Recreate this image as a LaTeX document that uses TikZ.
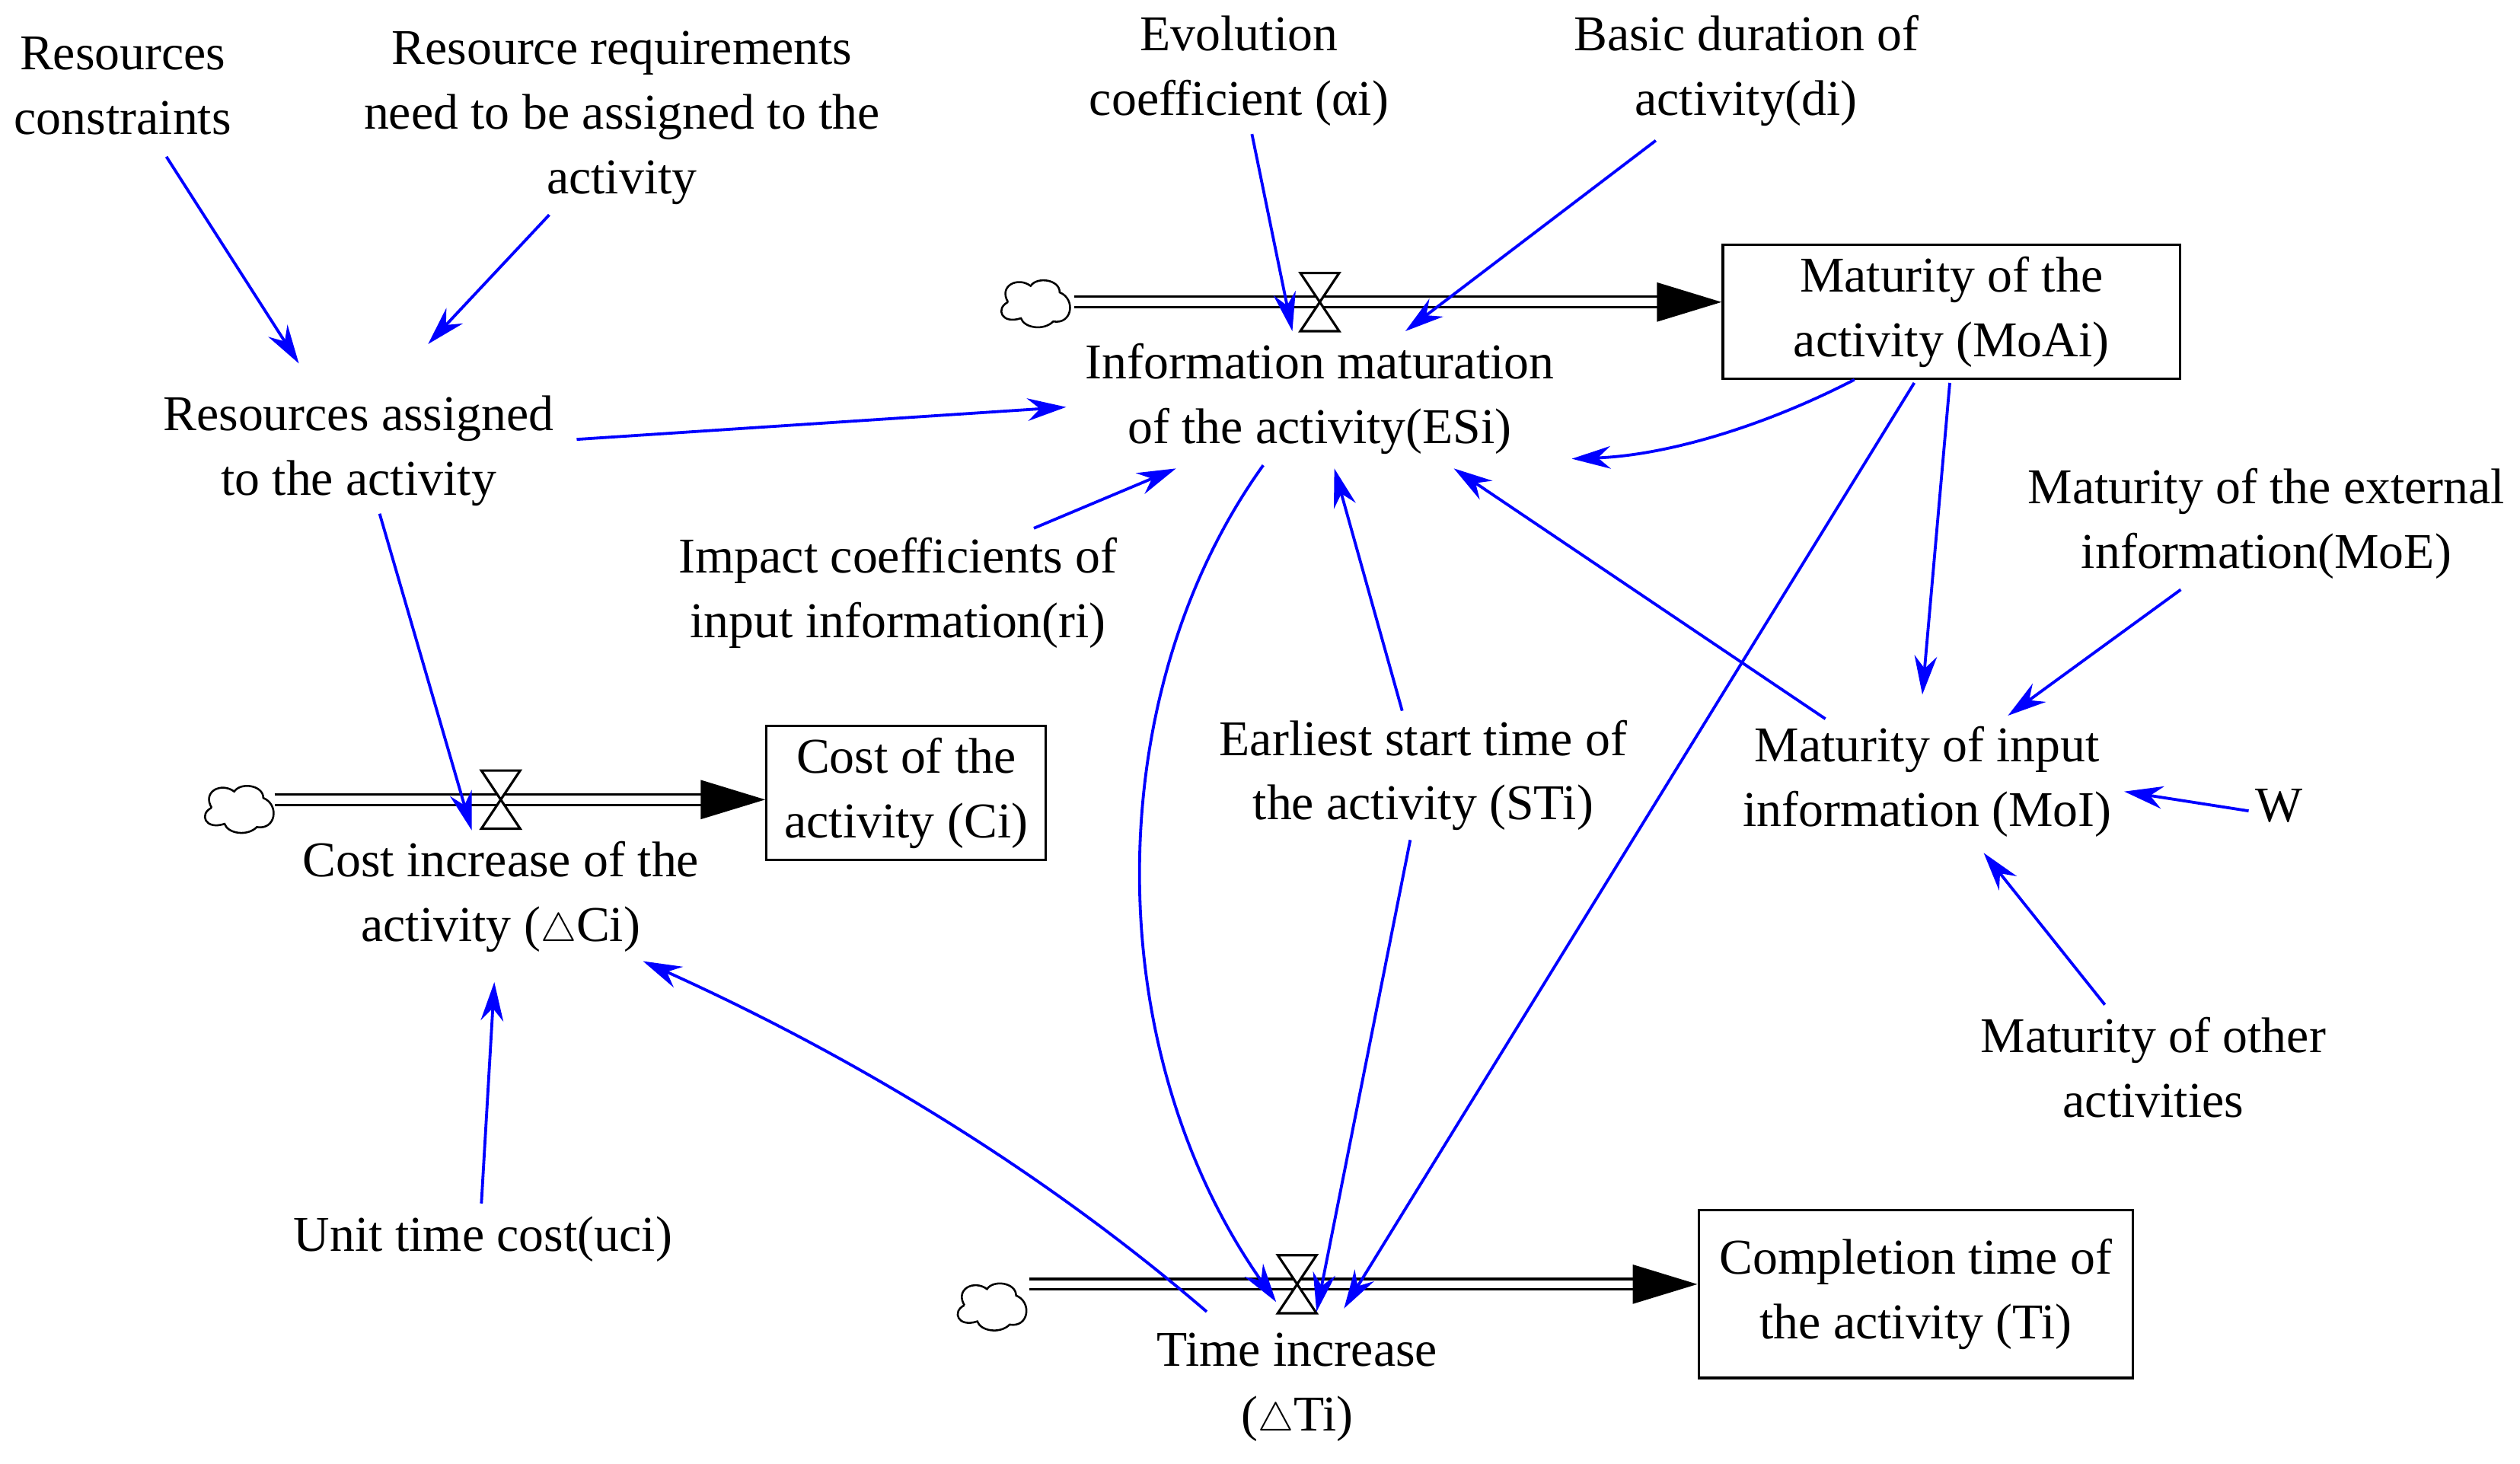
\documentclass[tikz,border=0pt]{standalone}
\usepackage{fontspec}
\setmainfont{Liberation Serif}
\usetikzlibrary{arrows.meta}
\begin{document}
\begin{tikzpicture}[x=1pt,y=-1pt,
  lbl/.style={align=center,font=\fontsize{31}{40}\selectfont,inner sep=1pt},
  box/.style={lbl,draw,line width=1.5pt,inner sep=2pt},
  lnk/.style={draw=blue,line width=1.8pt,-{Stealth[length=24pt,width=14pt]}},
  pipe/.style={double distance=5pt,line width=1.5pt,-{Triangle[length=40pt,width=24pt]}},
  cloud/.style={draw,line width=1.2pt}]
\useasboundingbox (0,0) rectangle (1560,906);
\newcommand{\mycloud}[2]{\draw[cloud] (#1-18,#2) .. controls (#1-24,#2-10) and (#1-12,#2-16) .. (#1-4,#2-10) .. controls (#1,#2-16) and (#1+14,#2-14) .. (#1+14,#2-6) .. controls (#1+24,#2-2) and (#1+22,#2+14) .. (#1+10,#2+12) .. controls (#1+4,#2+18) and (#1-8,#2+16) .. (#1-10,#2+10) .. controls (#1-22,#2+14) and (#1-26,#2+4) .. (#1-18,#2);}
\newcommand{\myvalve}[2]{\draw[line width=1.5pt,fill=white] (#1-12,#2-18) -- (#1+12,#2-18) -- (#1-12,#2+18) -- (#1+12,#2+18) -- cycle;}
% labels
\node[lbl] (rc) at (76,53) {Resources\\constraints};
\node[lbl] (rr) at (385,73) {Resource requirements\\need to be assigned to the\\activity};
\node[lbl] (ec) at (767,44) {Evolution\\coefficient (αi)};
\node[lbl] (bd) at (1081,44) {Basic duration of\\activity(di)};
\node[box,minimum width=283pt,minimum height=83pt] (moa) at (1208,193) {Maturity of the\\activity (MoAi)};
\node[lbl] (esi) at (817,247) {Information maturation\\of the activity(ESi)};
\node[lbl] (ra) at (222,279) {Resources assigned\\to the activity};
\node[lbl] (ic) at (556,367) {Impact coefficients of\\input information(ri)};
\node[lbl] (moe) at (1403,324) {Maturity of the external\\information(MoE)};
\node[lbl] (moi) at (1193,484) {Maturity of input\\information (MoI)};
\node[lbl] (w) at (1411,499) {W};
\node[lbl] (st) at (881,480) {Earliest start time of\\the activity (STi)};
\node[box,minimum width=173pt,minimum height=83pt] (ci) at (561,491) {Cost of the\\activity (Ci)};
\node[lbl] (dci) at (310,555) {Cost increase of the\\activity (\(\triangle\)Ci)};
\node[lbl] (oa) at (1333,661) {Maturity of other\\activities};
\node[lbl] (uc) at (299,767) {Unit time cost(uci)};
\node[box,minimum width=269pt,minimum height=104pt] (ti) at (1186,801) {Completion time of\\the activity (Ti)};
\node[lbl] (dti) at (803,859) {Time increase\\(\(\triangle\)Ti)};
% pipes
\coordinate (c1) at (665,187); \coordinate (c2) at (170,495); \coordinate (c3) at (637,795);
\draw[pipe] (c1) -- (moa.west |- c1);
\draw[pipe] (c2) -- (ci.west |- c2);
\draw[pipe] (c3) -- (ti.west |- c3);
\mycloud{642}{187}\mycloud{149}{500}\mycloud{615}{808}
\myvalve{817}{187}\myvalve{310}{495}\myvalve{803}{795}
% links
\coordinate (a1s) at (103,97); \coordinate (a1e) at (185,225);
\draw[lnk] (a1s) -- (a1e);
\coordinate (a2s) at (340,133); \coordinate (a2e) at (265,213);
\draw[lnk] (a2s) -- (a2e);
\coordinate (a3s) at (775,83); \coordinate (a3e) at (800,205);
\draw[lnk] (a3s) -- (a3e);
\coordinate (a4s) at (1025,87); \coordinate (a4e) at (870,205);
\draw[lnk] (a4s) -- (a4e);
\coordinate (a5s) at (357,272); \coordinate (a5e) at (660,252);
\draw[lnk] (a5s) -- (a5e);
\coordinate (a6s) at (640,327); \coordinate (a6e) at (728,290);
\draw[lnk] (a6s) -- (a6e);
\coordinate (a7s) at (1148,235); \coordinate (a7e) at (973,284);
\draw[lnk] (a7s) .. controls (1090,265) and (1030,282) .. (a7e);
\coordinate (a8s) at (1207,237); \coordinate (a8e) at (1190,430);
\draw[lnk] (a8s) -- (a8e);
\coordinate (a9s) at (1185,237); \coordinate (a9e) at (832,810);
\draw[lnk] (a9s) -- (a9e);
\coordinate (a10s) at (1130,445); \coordinate (a10e) at (900,290);
\draw[lnk] (a10s) -- (a10e);
\coordinate (a11s) at (868,440); \coordinate (a11e) at (826,290);
\draw[lnk] (a11s) -- (a11e);
\coordinate (a12s) at (1350,365); \coordinate (a12e) at (1243,443);
\draw[lnk] (a12s) -- (a12e);
\coordinate (a13s) at (1392,502); \coordinate (a13e) at (1315,490);
\draw[lnk] (a13s) -- (a13e);
\coordinate (a14s) at (1303,622); \coordinate (a14e) at (1228,528);
\draw[lnk] (a14s) -- (a14e);
\coordinate (a15s) at (782,288); \coordinate (a15e) at (790,806);
\draw[lnk] (a15s) .. controls (680,430) and (680,650) .. (a15e);
\coordinate (a16s) at (873,520); \coordinate (a16e) at (815,812);
\draw[lnk] (a16s) -- (a16e);
\coordinate (a17s) at (235,318); \coordinate (a17e) at (292,514);
\draw[lnk] (a17s) -- (a17e);
\coordinate (a18s) at (298,745); \coordinate (a18e) at (306,608);
\draw[lnk] (a18s) -- (a18e);
\coordinate (a19s) at (747,812); \coordinate (a19e) at (398,595);
\draw[lnk] (a19s) .. controls (640,720) and (520,650) .. (a19e);
\end{tikzpicture}
\end{document}
